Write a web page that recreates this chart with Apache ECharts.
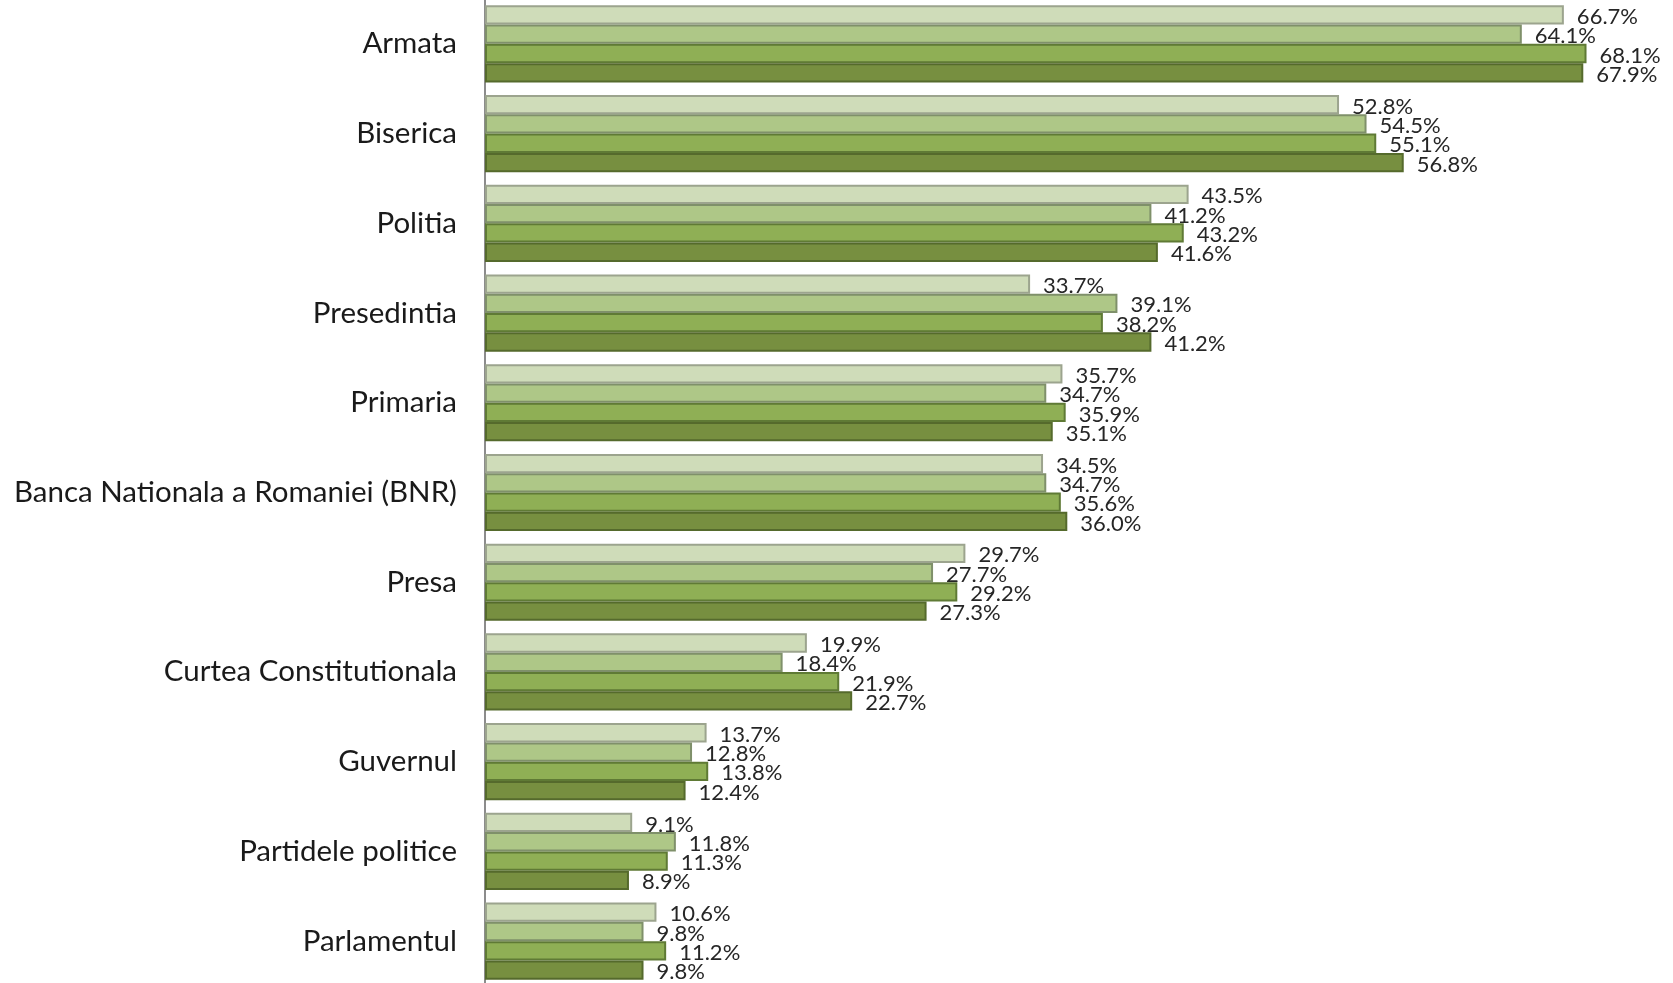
<!DOCTYPE html>
<html>
<head>
<meta charset="utf-8">
<script src="https://cdn.jsdelivr.net/npm/echarts@6/dist/echarts.min.js"></script>
<style>
	html, body { margin: 0; padding: 0; background: #fff; }
	#chart { width: 1673px; height: 983px; }
</style>
</head>
<body>
<div id="chart"></div>
<script>
var categories = [
	'Armata',
	'Biserica',
	'Politia',
	'Presedintia',
	'Primaria',
	'Banca Nationala a Romaniei (BNR)',
	'Presa',
	'Curtea Constitutionala',
	'Guvernul',
	'Partidele politice',
	'Parlamentul'
];

// one array per wave, top bar of each group first
var wave1 = [66.7, 52.8, 43.5, 33.7, 35.7, 34.5, 29.7, 19.9, 13.7, 9.1, 10.6];
var wave2 = [64.1, 54.5, 41.2, 39.1, 34.7, 34.7, 27.7, 18.4, 12.8, 11.8, 9.8];
var wave3 = [68.1, 55.1, 43.2, 38.2, 35.9, 35.6, 29.2, 21.9, 13.8, 11.3, 11.2];
var wave4 = [67.9, 56.8, 41.6, 41.2, 35.1, 36.0, 27.3, 22.7, 12.4, 8.9, 9.8];

var waves = [wave1, wave2, wave3, wave4];
var fills = ['#cfdcb9', '#aec787', '#8faf55', '#778f40'];
var borders = ['#9ca48e', '#7f906a', '#5f7a35', '#556a2c'];

var chart = echarts.init(document.getElementById('chart'));

var series = [];
for (var i = 0; i < waves.length; i++) {
	series.push({
		type: 'bar',
		name: 'Val ' + (i + 1),
		data: waves[i],
		barGap: '0%',
		barCategoryGap: '14%',
		itemStyle: {
			color: fills[i],
			borderColor: borders[i],
			borderWidth: 2
		},
		label: {
			show: true,
			position: 'right',
			distance: 13,
			offset: [0, 2],
			fontFamily: 'Lato',
			fontSize: 22,
			color: '#262626',
			formatter: function (p) {
				return p.value.toFixed(1) + '%';
			}
		}
	});
}

chart.setOption({
	animation: false,
	grid: {
		left: 485,
		top: -1,
		width: 1294,
		height: 987,
		outerBoundsMode: 'none'
	},
	xAxis: {
		type: 'value',
		min: 0,
		max: 80,
		show: false
	},
	yAxis: {
		type: 'category',
		inverse: true,
		data: categories,
		axisLine: {
			show: true,
			lineStyle: { color: '#8c8c8c', width: 2 }
		},
		axisTick: { show: false },
		axisLabel: {
			margin: 28,
			fontFamily: 'Lato',
			fontSize: 29.5,
			color: '#1a1a1a'
		}
	},
	series: series
});
</script>
</body>
</html>
